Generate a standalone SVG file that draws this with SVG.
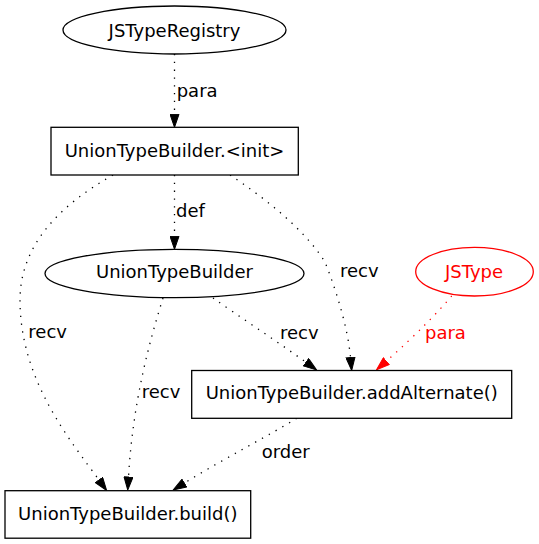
<svg xmlns="http://www.w3.org/2000/svg" width="539" height="544" viewBox="0 0 539 544">
<style>
text{font-family:"DejaVu Sans",sans-serif;font-size:18px;fill:#000}
.c{text-anchor:middle}
.n{fill:#fff;stroke:#000;stroke-width:1.3}
.e{fill:none;stroke:#000;stroke-width:1.3;stroke-dasharray:1.3,6.5}
.e.red{stroke:#f00}
text.r{fill:#f00}
</style>
<defs>
<marker id="a" markerUnits="userSpaceOnUse" markerWidth="14" markerHeight="10" viewBox="0 0 13 10" refX="0" refY="5" orient="auto"><path d="M0,0.5L13,5L0,9.5Z" fill="#000" stroke="#000" stroke-width="1"/></marker>
<marker id="ar" markerUnits="userSpaceOnUse" markerWidth="14" markerHeight="10" viewBox="0 0 13 10" refX="0" refY="5" orient="auto"><path d="M0,0.5L13,5L0,9.5Z" fill="#f00" stroke="#f00" stroke-width="1"/></marker>
</defs>
<rect width="539" height="544" fill="#fff"/>
<g id="edges">
<path class="e" d="M174.5,54L174.5,114.3" marker-end="url(#a)"/>
<text x="176.7" y="96.7">para</text>
<path class="e" d="M174.5,175L174.5,236.3" marker-end="url(#a)"/>
<text x="176" y="216.7">def</text>
<path class="e" d="M113,175C60,205 20,245 20,300C20,380 70,440 99,480" marker-end="url(#a)"/>
<text x="28.3" y="338.3">recv</text>
<path class="e" d="M230,175C265,198 305,230 325,262C338,295 348,330 350.5,357.5" marker-end="url(#a)"/>
<text x="340" y="277.3">recv</text>
<path class="e" d="M163,298C150,340 133,400 128.5,477" marker-end="url(#a)"/>
<text x="141.7" y="398.3">recv</text>
<path class="e" d="M213,298C240,317 275,340 306,362.3" marker-end="url(#a)"/>
<text x="280" y="338.5">recv</text>
<path class="e red" d="M451.7,296C440,310 415,336 386.3,361.2" marker-end="url(#ar)"/>
<text class="r" x="425" y="339">para</text>
<path class="e" d="M296.7,418.3C270,435 225,458 184.3,483.1" marker-end="url(#a)"/>
<text x="261.7" y="458.3">order</text>
</g>
<g id="JSTypeRegistry"><ellipse class="n" cx="174.5" cy="30" rx="111.5" ry="24"/><text class="c" x="174.5" y="36.5">JSTypeRegistry</text></g>
<g id="init"><rect class="n" x="51" y="127.3" width="247.3" height="47.7"/><text class="c" x="174.5" y="156.7">UnionTypeBuilder.&lt;init&gt;</text></g>
<g id="UnionTypeBuilder"><ellipse class="n" cx="174.5" cy="273.5" rx="129.5" ry="24.2"/><text class="c" x="174.5" y="278.3">UnionTypeBuilder</text></g>
<g id="JSType"><ellipse class="n" cx="474.5" cy="271.7" rx="58.8" ry="24.3" style="stroke:#f00"/><text class="c r" x="474" y="278.3">JSType</text></g>
<g id="addAlternate"><rect class="n" x="191.7" y="370.5" width="320" height="47.8"/><text class="c" x="351.7" y="399">UnionTypeBuilder.addAlternate()</text></g>
<g id="build"><rect class="n" x="5" y="490.7" width="245.7" height="47.5"/><text class="c" x="127.8" y="519.5">UnionTypeBuilder.build()</text></g>
</svg>
